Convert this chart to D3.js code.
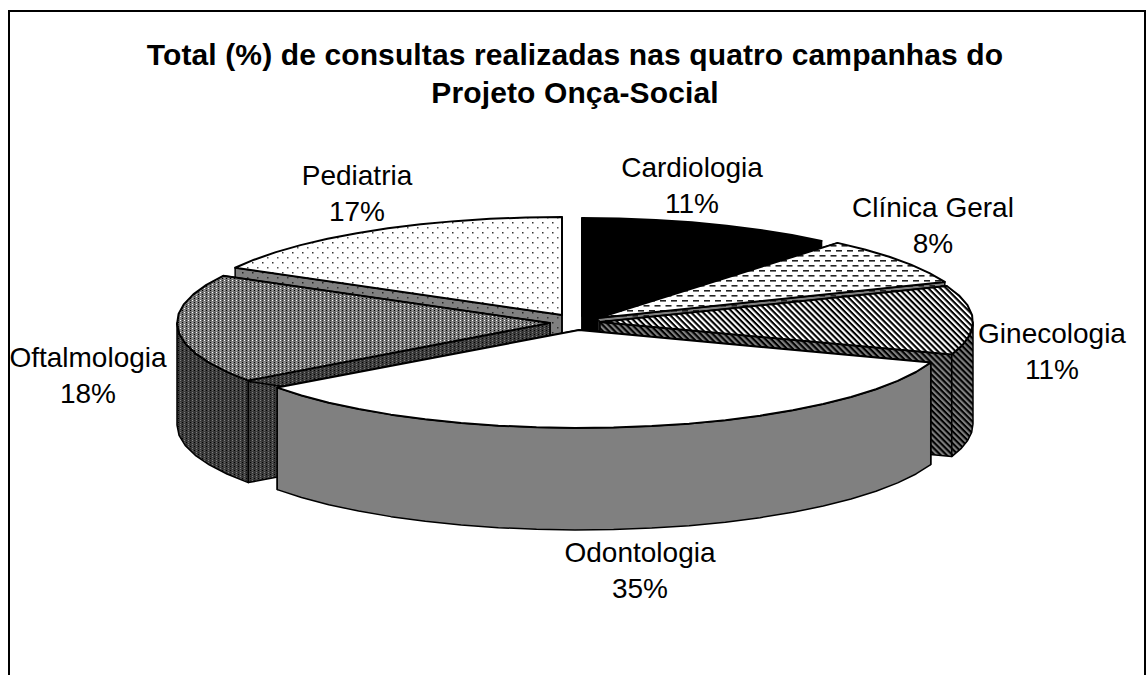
<!DOCTYPE html>
<html lang="pt">
<head>
<meta charset="utf-8">
<style>
html,body{margin:0;padding:0;background:#fff}
svg{display:block}
text{font-family:"Liberation Sans",Arial,sans-serif;fill:#000}
</style>
<script src="https://cdn.jsdelivr.net/npm/d3@7/dist/d3.min.js"></script>
</head>
<body>
<svg id="chart" width="1146" height="675"></svg>
<script>
const titleLines = ["Total (%) de consultas realizadas nas quatro campanhas do", "Projeto Onça-Social"];
const categories = ["Cardiologia", "Clínica Geral", "Ginecologia", "Odontologia", "Oftalmologia", "Pediatria"];
const values = [11.1, 7.9, 11.4, 34.6, 18.0, 17.0];

// layout, kept apart from the data
const W = 1146, H = 675;
const rx = 373, ry = 98, depth = 102;
const apexX = [582, 598, 600, 579, 550, 562];
const apexY = [316, 318, 322, 330, 323, 315];
const labelX = [692, 933, 1052, 640, 88, 357];
const labelY = [177, 217, 343, 562, 367, 185];
const lineGap = 36;
const topFills = ["#000", "url(#dash)", "url(#hatch)", "#fff", "url(#check)", "url(#dots)"];
const wallFills = ["#000", "url(#dashWall)", "url(#hatchWall)", "#808080", "url(#checkWall)", "url(#dotsWall)"];
const drawOrder = [5, 0, 1, 4, 2, 3];

const svg = d3.select("#chart");
const defs = svg.append("defs");

function pattern(id, w, h, bg, marks, transform) {
  const p = defs.append("pattern").attr("id", id).attr("patternUnits", "userSpaceOnUse")
    .attr("width", w).attr("height", h);
  if (transform) p.attr("patternTransform", transform);
  p.append("rect").attr("width", w).attr("height", h).attr("fill", bg);
  marks.forEach(m => p.append("rect").attr("x", m[0]).attr("y", m[1]).attr("width", m[2]).attr("height", m[3]).attr("fill", m[4]));
}
pattern("dash", 11, 10, "#fff", [[0, 0, 6, 1.6, "#222"], [5.5, 5, 5.5, 1.6, "#222"], [0, 5, .5, 1.6, "#222"]]);
pattern("dashWall", 11, 10, "#808080", [[0, 0, 6, 1.6, "#222"], [5.5, 5, 5.5, 1.6, "#222"]]);
pattern("hatch", 4.2, 4.2, "#fff", [[0, 0, 4.2, 2.1, "#000"]], "rotate(45)");
pattern("hatchWall", 4.2, 4.2, "#808080", [[0, 0, 4.2, 2.1, "#000"]], "rotate(45)");
pattern("check", 4, 4, "#777", [[0, 0, 1, 1, "#fff"], [2, 2, 1, 1, "#000"], [2, 0, 1, 1, "#333"], [0, 2, 1, 1, "#aaa"]]);
pattern("checkWall", 4, 4, "#3c3c3c", [[0, 0, 1, 1, "#808080"], [2, 2, 1, 1, "#000"], [2, 0, 1, 1, "#222"], [0, 2, 1, 1, "#666"]]);
pattern("dots", 10, 10, "#fff", [[2, 2, 1.5, 1.5, "#333"], [7, 7, 1.5, 1.5, "#555"]]);
pattern("dotsWall", 10, 10, "#808080", [[2, 2, 1.5, 1.5, "#222"], [7, 7, 1.5, 1.5, "#333"]]);

// frame: open at the bottom of the picture
svg.append("path").attr("d", d3.line()([[9, H + 2], [9, 11], [W - 1, 11], [W - 1, H + 2]]))
  .attr("fill", "none").attr("stroke", "#000").attr("stroke-width", 2);

const arcs = d3.pie().sort(null).value(d => d)(values);
const line = d3.line();
const stepAngle = Math.PI / 30;

function arcPoints(a0, a1, i, dy) {
  const n = Math.max(1, Math.ceil((a1 - a0) / stepAngle));
  return d3.range(n + 1).map(k => {
    const t = a0 + (a1 - a0) * k / n;
    return [apexX[i] + rx * Math.sin(t), apexY[i] - ry * Math.cos(t) + dy];
  });
}

const pieG = svg.append("g").attr("stroke", "#000").attr("stroke-linejoin", "round");
drawOrder.forEach(i => {
  const a = arcs[i];
  const up = arcPoints(a.startAngle, a.endAngle, i, 0);
  const apex = [apexX[i], apexY[i]], apexLow = [apexX[i], apexY[i] + depth];
  const first = up[0], last = up[up.length - 1];
  const g = pieG.append("g");
  const faces = [
    [apex, first, [first[0], first[1] + depth], apexLow],
    [apex, last, [last[0], last[1] + depth], apexLow]
  ];
  // only the part of the rim that faces the viewer is a visible wall
  const f0 = Math.max(a.startAngle, Math.PI / 2), f1 = Math.min(a.endAngle, 3 * Math.PI / 2);
  if (f1 > f0) {
    const rimUp = arcPoints(f0, f1, i, 0), rimDown = arcPoints(f0, f1, i, depth);
    faces.push(rimUp.concat(rimDown.reverse()));
  }
  g.selectAll("path.wall").data(faces).join("path").attr("class", "wall")
    .attr("d", d => line(d) + "Z").attr("fill", wallFills[i]).attr("stroke-width", 1.5);
  g.append("path").attr("class", "top").attr("d", line([apex].concat(up)) + "Z")
    .attr("fill", topFills[i]).attr("stroke-width", 2);
});

// title
svg.append("g").selectAll("text").data(titleLines).join("text")
  .attr("x", 575).attr("y", (d, i) => 65 + i * 38)
  .attr("text-anchor", "middle").attr("font-size", 30).attr("font-weight", "bold")
  .attr("letter-spacing", 0.12)
  .text(d => d);

// labels
const pct = d3.format(".0f");
const lab = svg.append("g").attr("font-size", 28);
categories.forEach((c, i) => {
  lab.append("text").attr("x", labelX[i]).attr("y", labelY[i]).attr("text-anchor", "middle").text(c);
  lab.append("text").attr("x", labelX[i]).attr("y", labelY[i] + lineGap).attr("text-anchor", "middle").text(pct(values[i]) + "%");
});
</script>
</body>
</html>
